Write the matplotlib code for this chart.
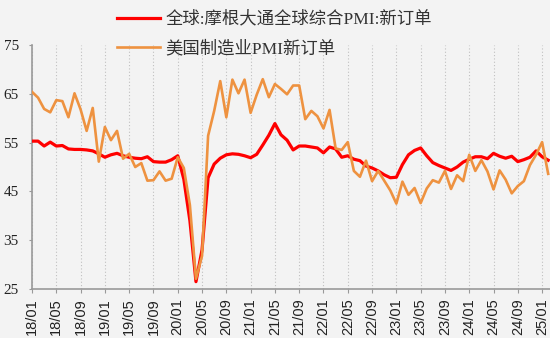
import matplotlib
matplotlib.use('Agg')
import matplotlib.pyplot as plt
import pandas as pd

# month labels 18/01 .. 25/02
months = pd.date_range('2018-01-01', '2025-02-01', freq='MS')
month_labels = [d.strftime('%y/%m') for d in months]

# 全球:摩根大通全球综合PMI:新订单
jpm_new_orders = [
    55.3, 55.3, 54.3, 55.1, 54.3, 54.4, 53.7, 53.6, 53.6, 53.5, 53.3, 52.7,
    52.0, 52.5, 52.8, 52.3, 52.0, 51.8, 51.7, 52.1, 51.1, 51.0, 51.0, 51.5,
    52.3, 47.5, 39.0, 26.5, 33.0, 47.8, 50.6, 51.8, 52.5, 52.7, 52.6, 52.3,
    51.9, 52.6, 54.5, 56.5, 58.9, 56.6, 55.5, 53.5, 54.3, 54.3, 54.1, 53.9,
    52.9, 54.1, 53.7, 52.0, 52.3, 51.6, 51.3, 50.2, 49.8, 49.2, 48.4, 47.8,
    47.9, 50.5, 52.5, 53.4, 53.9, 52.3, 50.9, 50.3, 49.8, 49.3, 50.0, 51.0,
    51.6, 52.1, 52.1, 51.7, 52.8, 52.2, 51.8, 52.2, 51.1, 51.5, 52.0, 53.3,
    52.1, 51.4,
]

# 美国制造业PMI新订单
ism_new_orders = [
    65.4, 64.2, 61.9, 61.2, 63.7, 63.5, 60.2, 65.1, 61.8, 57.4, 62.1, 51.1,
    58.2, 55.5, 57.4, 51.7, 52.7, 50.0, 50.8, 47.2, 47.3, 49.1, 47.2, 47.6,
    52.0, 49.8, 42.2, 27.1, 31.8, 56.4, 61.5, 67.6, 60.2, 67.9, 65.1, 67.9,
    61.1, 64.8, 68.0, 64.3, 67.0, 66.0, 64.9, 66.7, 66.7, 59.8, 61.5, 60.4,
    57.9, 61.7, 53.8, 53.5, 55.1, 49.2, 48.0, 51.3, 47.1, 49.2, 47.2, 45.2,
    42.5, 47.0, 44.3, 45.7, 42.6, 45.6, 47.3, 46.8, 49.2, 45.5, 48.3, 47.1,
    52.5, 49.2, 51.4, 49.1, 45.4, 49.3, 47.4, 44.6, 46.1, 47.1, 50.4, 52.5,
    55.1, 48.6,
]

x = list(range(len(month_labels)))
bg = '#f3f3f3'
cjk = ['Liberation Serif', 'Noto Sans CJK SC']

fig = plt.figure(figsize=(5.5, 3.38), dpi=100, facecolor=bg)
ax = fig.add_axes([32 / 550, 49 / 338, 518 / 550, 244 / 338])
ax.set_facecolor(bg)

l1, = ax.plot(x, jpm_new_orders, color='#ff0000', lw=2.3, zorder=3,
              label='全球:摩根大通全球综合PMI:新订单')
l2, = ax.plot(x, ism_new_orders, color='#ee9240', lw=1.9, zorder=4,
              label='美国制造业PMI新订单')

ax.set_xlim(0, 85.3)
ax.set_ylim(25, 75)
ax.set_yticks([25, 35, 45, 55, 65, 75])
ax.set_xticks(x[::4])
ax.set_xticklabels(month_labels[::4], rotation=90, family='Liberation Sans',
                   fontsize=10.5, color='#222222')
for t in ax.get_yticklabels():
    t.set_family('Liberation Serif')
    t.set_fontsize(11)
    t.set_color('#222222')

ax.grid(axis='x', color='#c0c0c0', ls=(0, (1, 2)), lw=0.8)
for s in ['top', 'right']:
    ax.spines[s].set_visible(False)
for s in ['left', 'bottom']:
    ax.spines[s].set_color('#999999')
    ax.spines[s].set_linewidth(1.2)
ax.tick_params(axis='y', length=2.5, pad=7, color='#999999')
ax.tick_params(axis='x', length=3, pad=3.5, color='#999999')

fig.legend(handles=[l1, l2], loc='upper left',
           bbox_to_anchor=(117 / 550, 1 - 11 / 338), frameon=False,
           prop={'family': cjk, 'size': 12.5}, labelcolor='#333333',
           handlelength=2.5, handletextpad=0.3, labelspacing=0.75,
           borderpad=0, borderaxespad=0)

fig.savefig('out.png', dpi=100, facecolor=bg)
